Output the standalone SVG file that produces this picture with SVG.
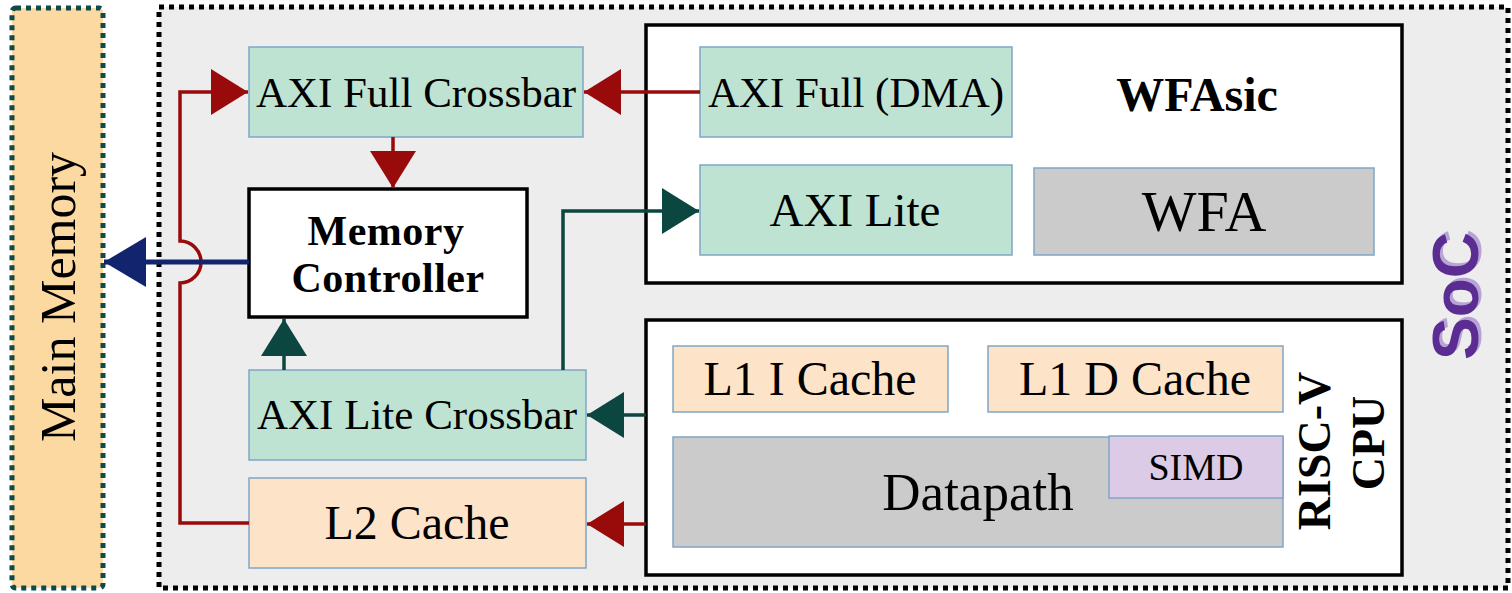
<svg xmlns="http://www.w3.org/2000/svg" width="1512" height="593" viewBox="0 0 1512 593">
  <style>
    text { font-family: "Liberation Serif", "Times New Roman", serif; fill: #000; }
    .lbl { text-anchor: middle; }
    .bold { font-weight: bold; }
    .axi { fill: #bee3d3; stroke: #7fa6c6; stroke-width: 1.5; }
    .cache { fill: #fde3c8; stroke: #7fa6c6; stroke-width: 1.5; }
    .core { fill: #cbcbcb; stroke: #7fa6c6; stroke-width: 1.5; }
    .simd { fill: #dccbe6; stroke: #7fa6c6; stroke-width: 1.5; }
    .frame { fill: #ffffff; stroke: #000; stroke-width: 3.5; }
    .red { fill: none; stroke: #990a0a; stroke-width: 3.5; }
    .teal { fill: none; stroke: #0b4640; stroke-width: 3.5; }
    .navy { fill: none; stroke: #13246e; stroke-width: 5; }
    .soc-label { font-family: "Liberation Sans", Arial, sans-serif; font-weight: bold; font-size: 64px; text-anchor: middle; }
  </style>
  <defs>
    <marker id="arRed" markerUnits="userSpaceOnUse" viewBox="0 0 37 46" markerWidth="37" markerHeight="46" refX="37" refY="23" orient="auto">
      <path d="M0,0 L37,23 L0,46 Z" fill="#990a0a"/>
    </marker>
    <marker id="arTeal" markerUnits="userSpaceOnUse" viewBox="0 0 37 46" markerWidth="37" markerHeight="46" refX="37" refY="23" orient="auto">
      <path d="M0,0 L37,23 L0,46 Z" fill="#0b4640"/>
    </marker>
    <marker id="arNavy" markerUnits="userSpaceOnUse" viewBox="0 0 42 50" markerWidth="42" markerHeight="50" refX="42" refY="25" orient="auto">
      <path d="M0,0 L42,25 L0,50 Z" fill="#13246e"/>
    </marker>
  </defs>

  <rect width="1512" height="593" fill="#ffffff"/>

  <!-- Off-chip main memory -->
  <g id="main-memory">
    <rect x="12" y="8" width="91" height="580" rx="4" fill="#fdd9a2" stroke="#0e4a4a" stroke-width="5" stroke-dasharray="5 5"/>
    <text class="lbl" font-size="50" transform="translate(75,297) rotate(-90)">Main Memory</text>
  </g>

  <!-- System on chip boundary -->
  <g id="soc">
    <rect x="159" y="7" width="1349" height="581" fill="#ededed" stroke="#000" stroke-width="5" stroke-dasharray="5 5"/>
    <text class="soc-label" fill="#b7a3d6" style="fill:#b7a3d6" transform="translate(1481,293) rotate(-90)">SoC</text>
    <text class="soc-label" style="fill:#5b2c91" transform="translate(1478,296) rotate(-90)">SoC</text>
  </g>

  <g id="axi-full-crossbar">
    <rect class="axi" x="249" y="47" width="334" height="90"/>
    <text class="lbl" x="416" y="107" font-size="43">AXI Full Crossbar</text>
  </g>

  <g id="memory-controller">
    <rect class="frame" x="249" y="189" width="278" height="128"/>
    <text class="lbl bold" x="386" y="245" font-size="42" letter-spacing="0.5">Memory</text>
    <text class="lbl bold" x="388" y="292" font-size="42" letter-spacing="0.5">Controller</text>
  </g>

  <g id="axi-lite-crossbar">
    <rect class="axi" x="249" y="370" width="337" height="90"/>
    <text class="lbl" x="417" y="429" font-size="43">AXI Lite Crossbar</text>
  </g>

  <g id="l2-cache">
    <rect class="cache" x="249" y="478" width="337" height="90"/>
    <text class="lbl" x="417" y="539" font-size="48">L2 Cache</text>
  </g>

  <!-- Accelerator block -->
  <g id="wfasic">
    <rect class="frame" x="646" y="25" width="756" height="258"/>
    <text class="lbl bold" x="1197" y="111" font-size="48">WFAsic</text>
  </g>

  <g id="axi-full-dma">
    <rect class="axi" x="700" y="47" width="312" height="90"/>
    <text class="lbl" x="856" y="107" font-size="43">AXI Full (DMA)</text>
  </g>

  <g id="axi-lite">
    <rect class="axi" x="700" y="165" width="312" height="90"/>
    <text class="lbl" x="855" y="226" font-size="47">AXI Lite</text>
  </g>

  <g id="wfa">
    <rect class="core" x="1034" y="168" width="340" height="87"/>
    <text class="lbl" x="1204" y="231" font-size="58">WFA</text>
  </g>

  <!-- Processor block -->
  <g id="riscv-cpu">
    <rect class="frame" x="646" y="320" width="756" height="255"/>
    <text class="lbl bold" font-size="46" transform="translate(1330,451) rotate(-90)">RISC-V</text>
    <text class="lbl bold" font-size="46" transform="translate(1384,443) rotate(-90)">CPU</text>
  </g>

  <g id="l1-i-cache">
    <rect class="cache" x="673" y="346" width="275" height="66"/>
    <text class="lbl" x="810" y="395" font-size="48">L1 I Cache</text>
  </g>

  <g id="l1-d-cache">
    <rect class="cache" x="988" y="346" width="295" height="66"/>
    <text class="lbl" x="1135" y="395" font-size="48">L1 D Cache</text>
  </g>

  <g id="datapath">
    <rect class="core" x="673" y="437" width="610" height="110"/>
    <text class="lbl" x="978" y="510" font-size="53">Datapath</text>
  </g>

  <g id="simd">
    <rect class="simd" x="1109" y="436" width="174" height="62"/>
    <text class="lbl" x="1196" y="480" font-size="38">SIMD</text>
  </g>

  <!-- Connectors -->
  <g id="connectors">
    <path class="red" d="M700,92 H584" marker-end="url(#arRed)"/>
    <path class="red" d="M393,137 V188" marker-end="url(#arRed)"/>
    <path class="red" d="M249,523 H180 V283 A21,21 0 0 0 180,241 V92 H248" marker-end="url(#arRed)"/>
    <path class="navy" d="M249,262 H104" marker-end="url(#arNavy)"/>
    <path class="teal" d="M284,370 V319" marker-end="url(#arTeal)"/>
    <path class="teal" d="M563,370 V211 H699" marker-end="url(#arTeal)"/>
    <path class="teal" d="M646,415 H587" marker-end="url(#arTeal)"/>
    <path class="red" d="M646,524 H587" marker-end="url(#arRed)"/>
  </g>
</svg>
